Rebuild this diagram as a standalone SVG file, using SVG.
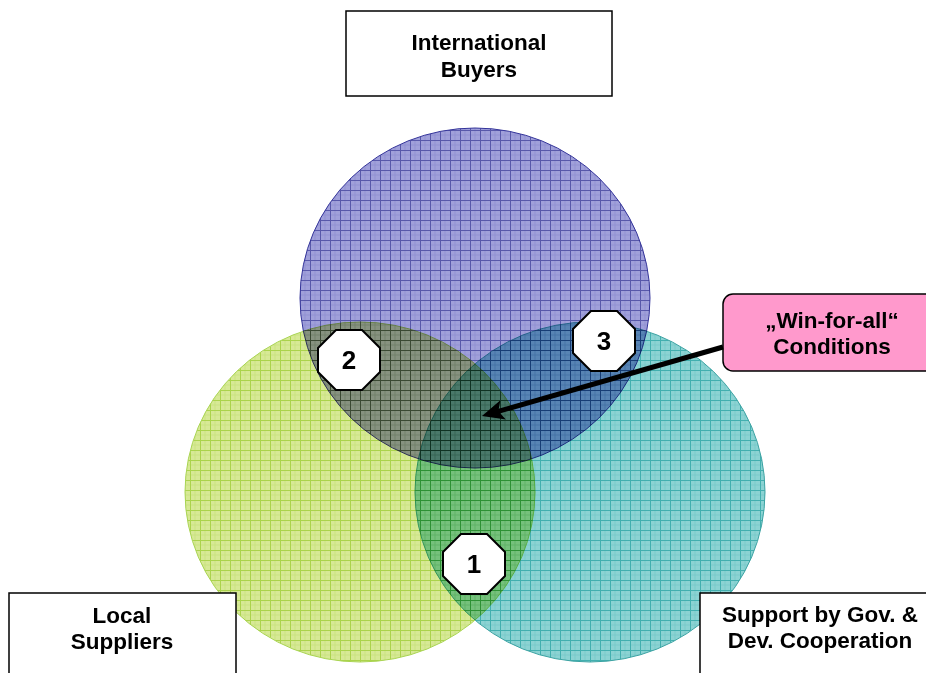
<svg xmlns="http://www.w3.org/2000/svg" width="926" height="673" viewBox="0 0 926 673">
<style>
.box{fill:#fff;stroke:#000;stroke-width:1.5}
.lbl{font-family:"Liberation Sans",Arial,sans-serif;font-weight:bold;font-size:22.5px;fill:#000;text-anchor:middle}
.num{font-family:"Liberation Sans",Arial,sans-serif;font-weight:bold;font-size:26px;fill:#000;text-anchor:middle}
.oct{fill:#fff;stroke:#000;stroke-width:2}
.circ{mix-blend-mode:multiply}
</style>
<defs>
<pattern id="pBlue" width="10" height="10" patternUnits="userSpaceOnUse">
<rect width="10" height="10" fill="#a0a0da"/>
<path d="M5 0V10M0 5H10" stroke="#9292d2" stroke-width="1"/>
<path d="M0.5 0V10M0 0.5H10" stroke="#5858aa" stroke-width="1"/>
</pattern>
<pattern id="pGreen" width="10" height="10" patternUnits="userSpaceOnUse">
<rect width="10" height="10" fill="#d0e684"/>
<path d="M5 0V10M0 5H10" stroke="#c2de6c" stroke-width="1"/>
<path d="M0.5 0V10M0 0.5H10" stroke="#9ccc2c" stroke-width="1"/>
</pattern>
<pattern id="pTeal" width="10" height="10" patternUnits="userSpaceOnUse">
<rect width="10" height="10" fill="#82d0d0"/>
<path d="M5 0V10M0 5H10" stroke="#6ec6c6" stroke-width="1"/>
<path d="M0.5 0V10M0 0.5H10" stroke="#32a8a8" stroke-width="1"/>
</pattern>
<polygon id="octShape" points="-13,-30 13,-30 31,-12 31,12 13,30 -13,30 -31,12 -31,-12"/>
<marker id="arrowHead" markerUnits="userSpaceOnUse" markerWidth="24" markerHeight="22" refX="7" refY="10" orient="auto">
<path d="M0,0 L22,10 L0,20 L5,10 Z" fill="#000"/>
</marker>
</defs>
<rect width="926" height="673" fill="#fff"/>

<g id="circles">
<ellipse id="circle-buyers" class="circ" cx="475" cy="298" rx="175" ry="170" fill="url(#pBlue)" stroke="#333399" stroke-width="1"/>
<ellipse id="circle-support" class="circ" cx="590" cy="492" rx="175" ry="170" fill="url(#pTeal)" stroke="#2a9a9a" stroke-width="1" opacity="0.92"/>
<ellipse id="circle-suppliers" class="circ" cx="360" cy="492" rx="175" ry="170" fill="url(#pGreen)" stroke="#99cc33" stroke-width="1" opacity="0.85"/>
</g>

<g id="node-buyers">
<rect class="box" x="346" y="11" width="266" height="85"/>
<text class="lbl" x="479" y="50">International</text>
<text class="lbl" x="479" y="77">Buyers</text>
</g>

<g id="node-suppliers">
<rect class="box" x="9" y="593" width="227" height="90"/>
<text class="lbl" x="122" y="623">Local</text>
<text class="lbl" x="122" y="649">Suppliers</text>
</g>

<g id="node-support">
<rect class="box" x="700" y="593" width="240" height="90"/>
<text class="lbl" x="820" y="622">Support by Gov. &amp;</text>
<text class="lbl" x="820" y="648">Dev. Cooperation</text>
</g>

<g id="node-winforall">
<rect x="723" y="294" width="215" height="77" rx="10" ry="10" fill="#ff99cc" stroke="#000" stroke-width="1.5"/>
<text class="lbl" x="832" y="328">„Win-for-all“</text>
<text class="lbl" x="832" y="354">Conditions</text>
</g>

<g id="node-2">
<use href="#octShape" class="oct" x="349" y="360"/>
<text class="num" x="349" y="369">2</text>
</g>
<g id="node-3">
<use href="#octShape" class="oct" x="604" y="341"/>
<text class="num" x="604" y="350">3</text>
</g>
<g id="node-1">
<use href="#octShape" class="oct" x="474" y="564"/>
<text class="num" x="474" y="573">1</text>
</g>

<g id="connectors">
<line x1="723" y1="347" x2="496.4" y2="411.9" stroke="#000" stroke-width="5" marker-end="url(#arrowHead)"/>
</g>
</svg>
